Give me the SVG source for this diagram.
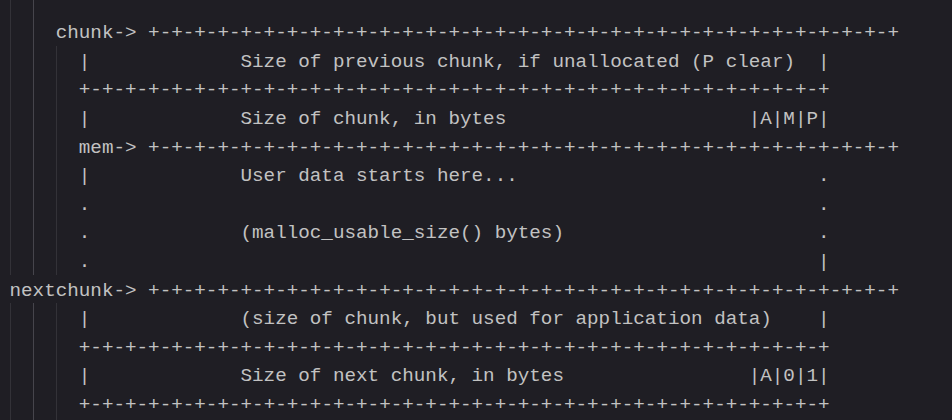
<svg xmlns="http://www.w3.org/2000/svg" width="952" height="420" viewBox="0 0 952 420">
<style>
.t { font-family: "Liberation Mono", "DejaVu Sans Mono", monospace; font-size: 19.25px; fill: #c2c2c2; }
.g { stroke: #333238; stroke-width: 1; }
.ga { stroke: #46454c; stroke-width: 1; }
</style>
<rect width="952" height="420" fill="#1f1e24"/>
<g id="guides">
<line class="g" x1="10.5" y1="0" x2="10.5" y2="275"/>
<line class="g" x1="10.5" y1="303" x2="10.5" y2="420"/>
<line class="ga" x1="33.5" y1="0" x2="33.5" y2="275"/>
<line class="ga" x1="33.5" y1="303" x2="33.5" y2="420"/>
<line class="g" x1="56.5" y1="46" x2="56.5" y2="275"/>
<line class="g" x1="56.5" y1="303" x2="56.5" y2="420"/>
</g>
<g id="row-chunk">
<text class="t" x="55.7" y="38.2">chunk-&gt;</text>
<text class="t" x="148.1" y="38.2">+-+-+-+-+-+-+-+-+-+-+-+-+-+-+-+-+-+-+-+-+-+-+-+-+-+-+-+-+-+-+-+-+</text>
</g>
<g id="row-prev-size">
<text class="t" x="78.8" y="66.8">|</text>
<text class="t" x="240.5" y="66.8">Size of previous chunk, if unallocated (P clear)</text>
<text class="t" x="818" y="66.8">|</text>
</g>
<g id="row-border-1">
<text class="t" x="78.8" y="95.4">+-+-+-+-+-+-+-+-+-+-+-+-+-+-+-+-+-+-+-+-+-+-+-+-+-+-+-+-+-+-+-+-+</text>
</g>
<g id="row-size">
<text class="t" x="78.8" y="124">|</text>
<text class="t" x="240.5" y="124">Size of chunk, in bytes</text>
<text class="t" x="748.7" y="124">|A|M|P|</text>
</g>
<g id="row-mem">
<text class="t" x="78.8" y="152.6">mem-&gt;</text>
<text class="t" x="148.1" y="152.6">+-+-+-+-+-+-+-+-+-+-+-+-+-+-+-+-+-+-+-+-+-+-+-+-+-+-+-+-+-+-+-+-+</text>
</g>
<g id="row-user-data">
<text class="t" x="78.8" y="181.2">|</text>
<text class="t" x="240.5" y="181.2">User data starts here...</text>
<text class="t" x="818" y="181.2">.</text>
</g>
<g id="row-dots-1">
<text class="t" x="78.8" y="209.8">.</text>
<text class="t" x="818" y="209.8">.</text>
</g>
<g id="row-usable">
<text class="t" x="78.8" y="238.4">.</text>
<text class="t" x="240.5" y="238.4">(malloc_usable_size() bytes)</text>
<text class="t" x="818" y="238.4">.</text>
</g>
<g id="row-dots-2">
<text class="t" x="78.8" y="267">.</text>
<text class="t" x="818" y="267">|</text>
</g>
<g id="row-nextchunk">
<text class="t" x="9.5" y="295.6">nextchunk-&gt;</text>
<text class="t" x="148.1" y="295.6">+-+-+-+-+-+-+-+-+-+-+-+-+-+-+-+-+-+-+-+-+-+-+-+-+-+-+-+-+-+-+-+-+</text>
</g>
<g id="row-app-data">
<text class="t" x="78.8" y="324.2">|</text>
<text class="t" x="240.5" y="324.2">(size of chunk, but used for application data)</text>
<text class="t" x="818" y="324.2">|</text>
</g>
<g id="row-border-2">
<text class="t" x="78.8" y="352.8">+-+-+-+-+-+-+-+-+-+-+-+-+-+-+-+-+-+-+-+-+-+-+-+-+-+-+-+-+-+-+-+-+</text>
</g>
<g id="row-next-size">
<text class="t" x="78.8" y="381.4">|</text>
<text class="t" x="240.5" y="381.4">Size of next chunk, in bytes</text>
<text class="t" x="748.7" y="381.4">|A|0|1|</text>
</g>
<g id="row-border-3">
<text class="t" x="78.8" y="410">+-+-+-+-+-+-+-+-+-+-+-+-+-+-+-+-+-+-+-+-+-+-+-+-+-+-+-+-+-+-+-+-+</text>
</g>
</svg>
